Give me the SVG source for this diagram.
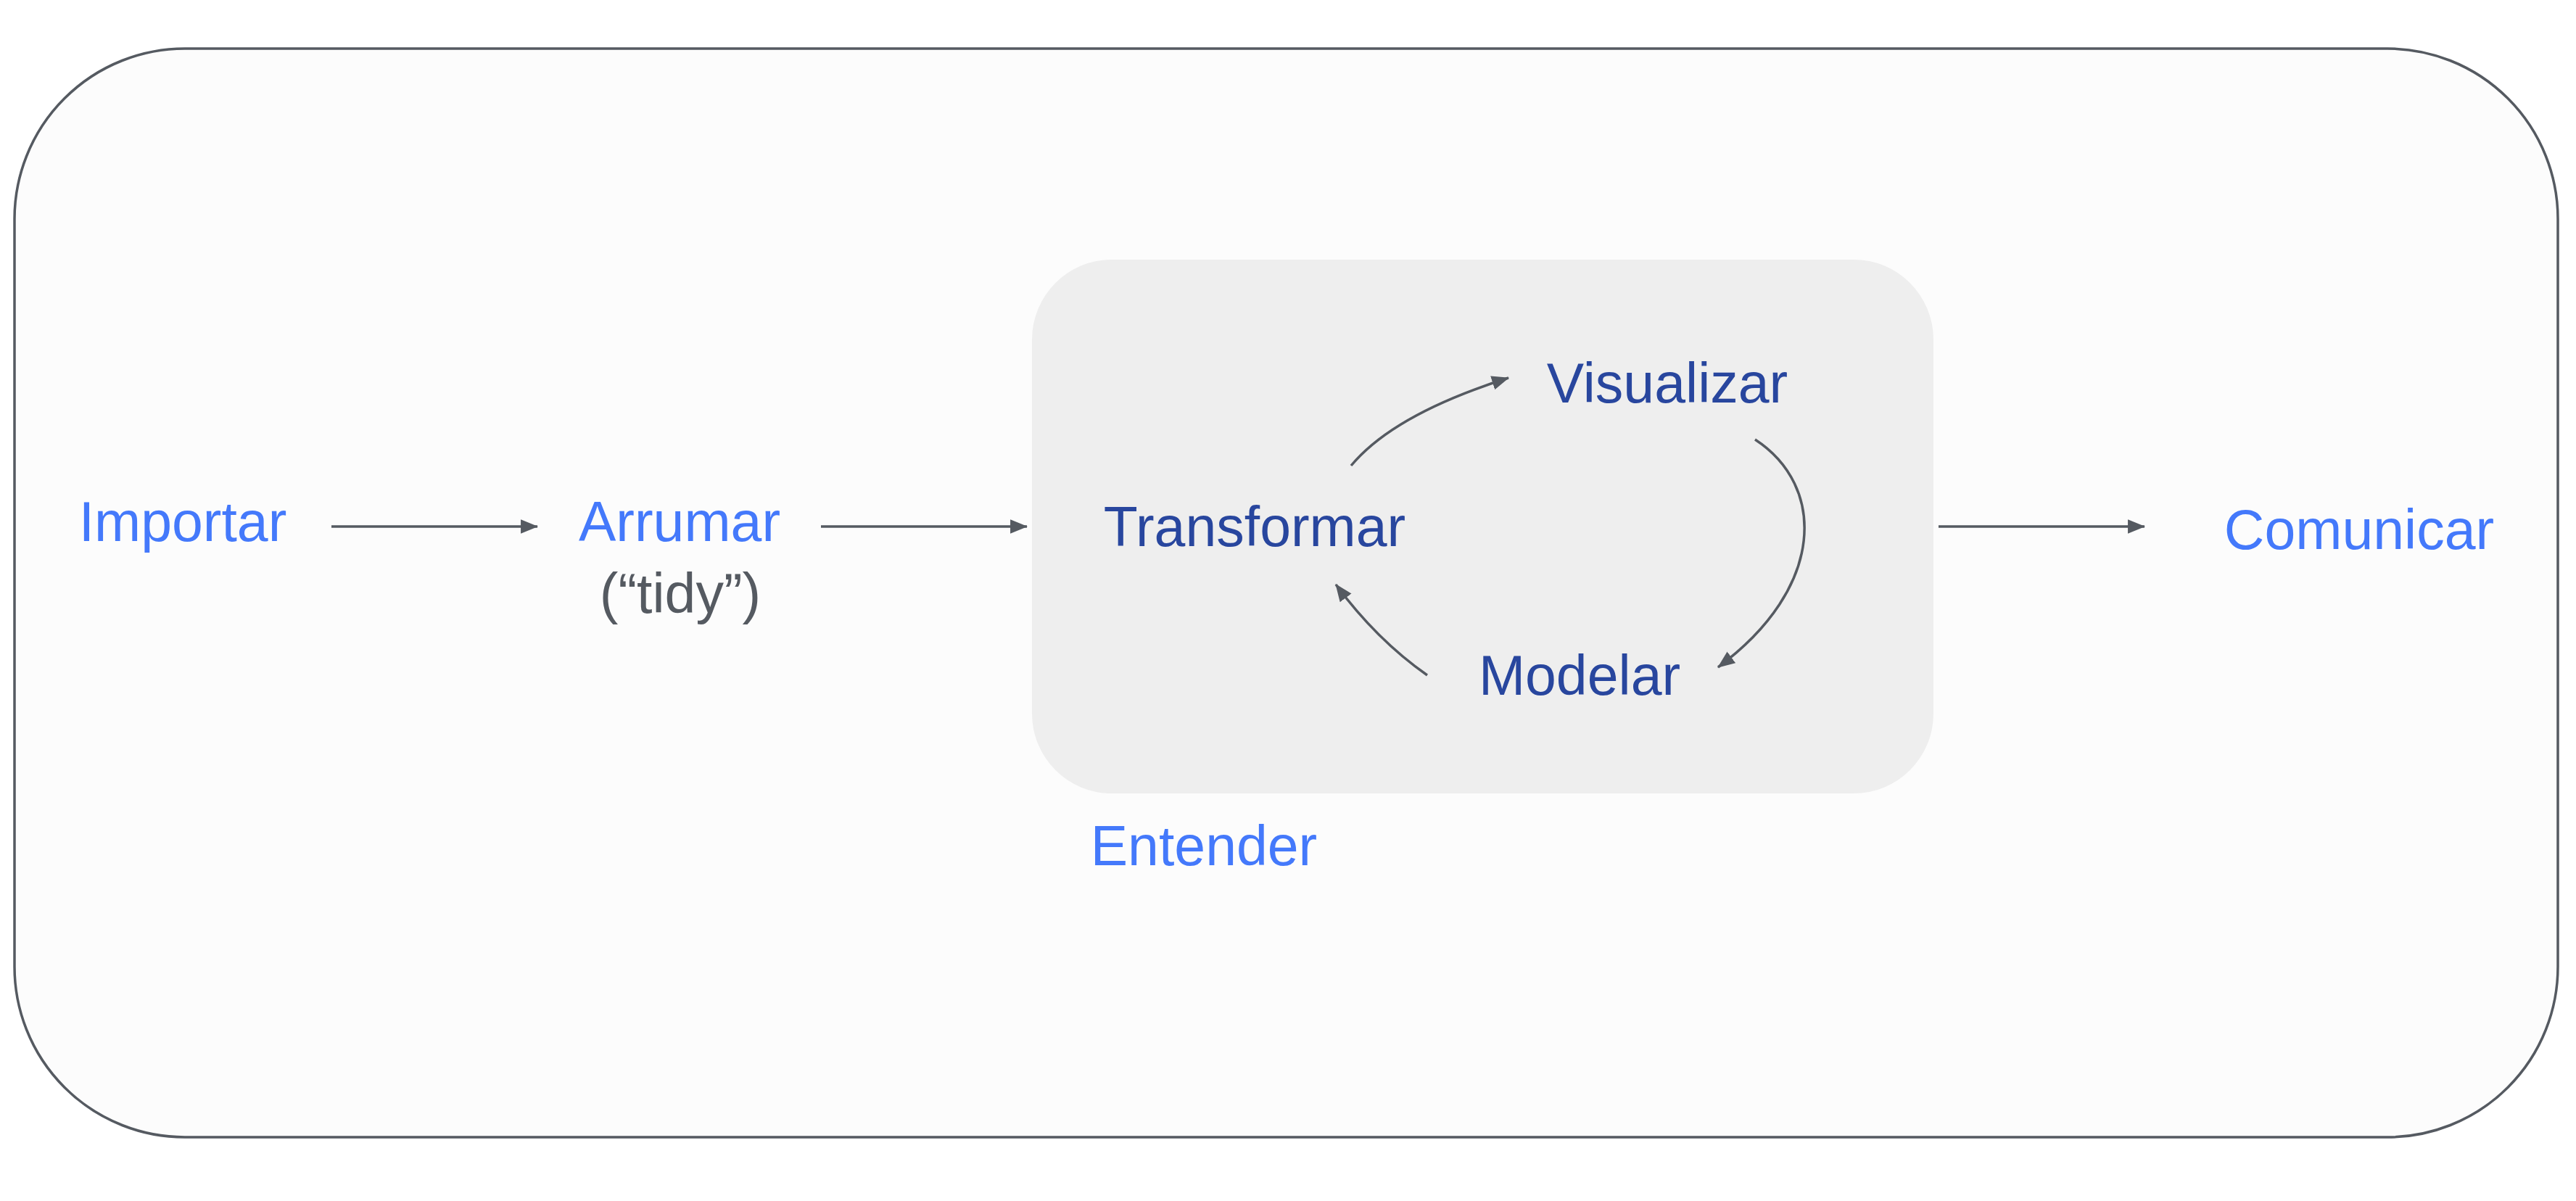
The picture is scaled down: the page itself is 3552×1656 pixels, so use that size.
<svg xmlns="http://www.w3.org/2000/svg" width="3552" height="1656" viewBox="0 0 3552 1656">
<defs>
<style>
.lbl{font-family:"Liberation Sans",Arial,sans-serif;font-size:77px;text-anchor:middle}
.light{fill:#4479fb}
.dark{fill:#28469e}
.gray{fill:#555a61}
.conn{fill:none;stroke:#555a61;stroke-width:3.5}
</style>
<marker id="ah" markerUnits="userSpaceOnUse" markerWidth="24" markerHeight="20" viewBox="0 0 22 18" refX="21" refY="9" orient="auto">
<path d="M0,0 L22,9 L0,18 Z" fill="#555a61"/>
</marker>
</defs>
<rect width="3552" height="1656" fill="#ffffff"/>
<g id="outer">
<rect x="20" y="67" width="3507" height="1501" rx="235" ry="235" fill="#fcfcfc" stroke="#555a61" stroke-width="3.5"/>
</g>
<g id="entender-box">
<rect x="1423" y="358" width="1243" height="736" rx="110" ry="110" fill="#eeeeee"/>
</g>
<g id="connectors">
<path class="conn" d="M457,726 L741,726" marker-end="url(#ah)"/>
<path class="conn" d="M1132,726 L1416,726" marker-end="url(#ah)"/>
<path class="conn" d="M2673,726 L2957,726" marker-end="url(#ah)"/>
<path class="conn" d="M1863,642 Q1922,571 2080,521" marker-end="url(#ah)"/>
<path class="conn" d="M2420,606 C2518,670 2518,810 2369,920" marker-end="url(#ah)"/>
<path class="conn" d="M1968,931 Q1898,882 1842,806" marker-end="url(#ah)"/>
</g>
<g id="importar"><text class="lbl light" x="252" y="746">Importar</text></g>
<g id="arrumar"><text class="lbl light" x="937" y="746">Arrumar</text>
<text class="lbl gray" x="938" y="845">(“tidy”)</text></g>
<g id="transformar"><text class="lbl dark" x="1730" y="753">Transformar</text></g>
<g id="visualizar"><text class="lbl dark" x="2299" y="555">Visualizar</text></g>
<g id="modelar"><text class="lbl dark" x="2178" y="958">Modelar</text></g>
<g id="comunicar"><text class="lbl light" x="3253" y="757">Comunicar</text></g>
<g id="entender"><text class="lbl light" x="1660" y="1193">Entender</text></g>
</svg>
